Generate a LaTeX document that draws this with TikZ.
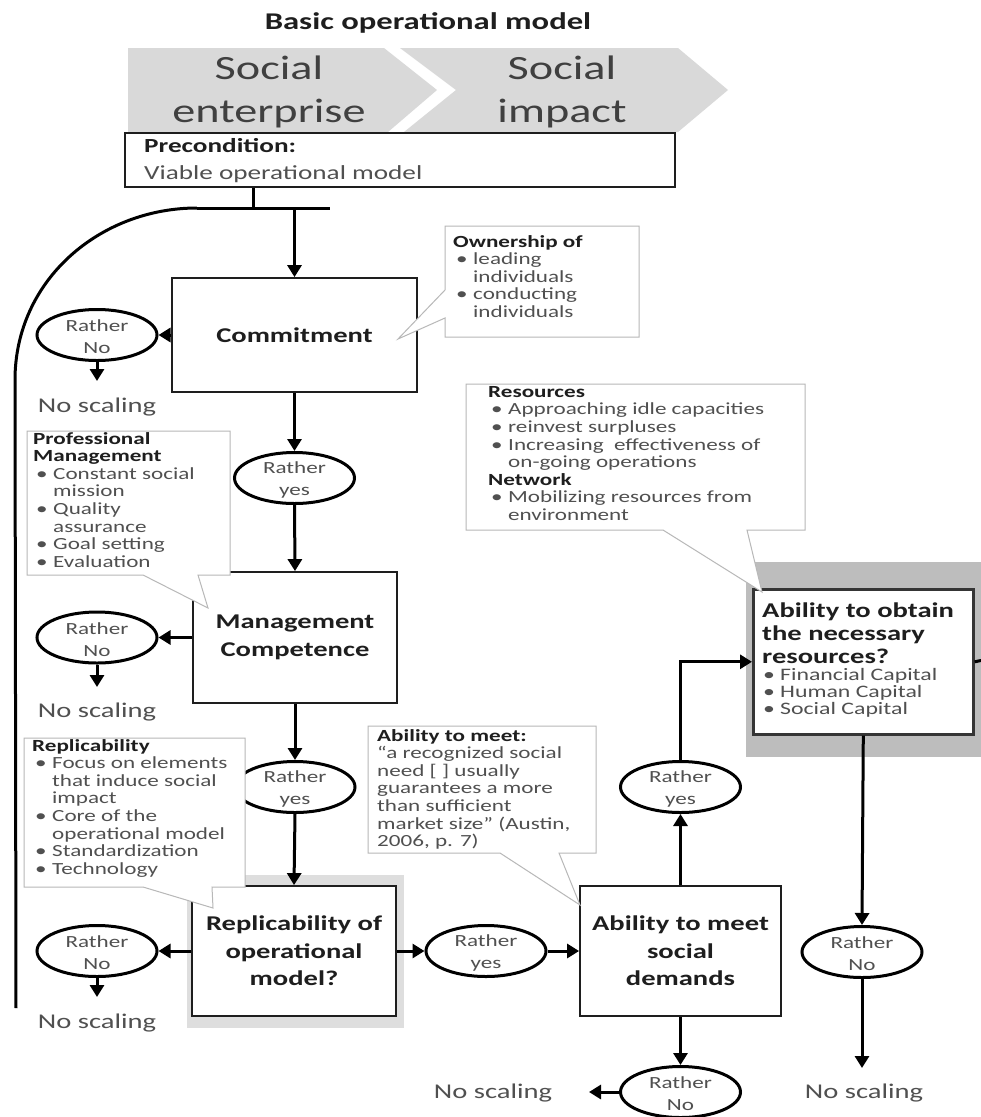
\documentclass[tikz,border=0pt]{standalone}
\usepackage{fontspec}
\setmainfont{Carlito}[FakeStretch=1.36]
\usetikzlibrary{shapes.geometric,arrows.meta}

\definecolor{bannergray}{HTML}{D9D9D9}
\definecolor{callline}{HTML}{B8B8B8}
\definecolor{softtext}{HTML}{505050}
\definecolor{darktext}{HTML}{1E1E1E}
\definecolor{shadelight}{HTML}{DEDEDE}
\definecolor{shadedark}{HTML}{BDBDBD}

\newcommand\boxfont{\fontsize{21}{27.5}\selectfont\bfseries}
\newcommand\callfont{\fontsize{17}{17.6}\selectfont}
\newcommand\bul[1]{\makebox[20pt][l]{\hspace{3pt}\textbullet}#1}
\newcommand\cnt[1]{\hspace*{20pt}#1}
\newcommand\hd[1]{\textcolor{darktext}{\bfseries #1}}

\begin{document}
\begin{tikzpicture}[x=1pt,y=-1pt,
  flow/.style={line width=3pt,-{Triangle[length=12pt,width=14pt]}},
  plain/.style={line width=3pt},
  stepbox/.style={draw=darktext,line width=1.8pt,fill=white,inner sep=0pt,
    align=center,font=\boxfont,text=darktext},
  choicetext/.style={align=center,font=\fontsize{17}{22}\selectfont,
    text=softtext,yshift=-2pt},
  choice/.style={ellipse,draw=black,line width=3pt,fill=white,
    minimum width=120pt,minimum height=51pt,inner sep=0pt,
    label={[choicetext]center:#1}},
  endtext/.style={font=\fontsize{21}{25}\selectfont,text=softtext},
  callout/.style={draw=callline,line width=1pt,fill=white},
  calltext/.style={anchor=north west,inner sep=0pt,align=left,
    font=\callfont,text=softtext}]

\useasboundingbox (0,0) rectangle (981,1117);
\fill[white] (0,0) rectangle (981,1117);

% heading and the two chevrons
\node[font=\fontsize{24}{28}\selectfont\bfseries,text=darktext] (title)
  at (428,23) {Basic operational model};
\fill[bannergray] (128,48) -- (384,48) -- (437,90) -- (388,132) -- (128,132) -- cycle;
\fill[bannergray] (400,48) -- (678,48) -- (728,90) -- (678,132) -- (404,132)
  -- (456,90) -- cycle;
\node[align=center,font=\fontsize{34}{43}\selectfont,text=darktext!85] (enterprise)
  at (269,92) {Social\\enterprise};
\node[align=center,font=\fontsize{34}{43}\selectfont,text=darktext!85] (impact)
  at (562,92) {Social\\impact};

% precondition
\node[draw=darktext,line width=1.8pt,fill=white,minimum width=550pt,
  minimum height=54pt,inner sep=0pt] (pre) at (400,160) {};
\node[anchor=west,align=left,inner sep=0pt,font=\fontsize{20}{27}\selectfont,
  text=softtext] (pretext) at (144,161)
  {\textcolor{darktext}{\bfseries Precondition:}\\Viable operational model};

% grey backdrops of the two key questions
\fill[shadelight] (187,875) rectangle (404,1028);
\fill[shadedark] (746,562) rectangle (981,757);

% process steps
\node[stepbox,minimum width=245pt,minimum height=114pt] (commit)
  at (294.5,335) {Commitment};
\node[stepbox,minimum width=204pt,minimum height=131pt] (mgmt)
  at (295,637.5) {Management\\Competence};
\node[stepbox,minimum width=204pt,minimum height=130pt] (repl)
  at (294,951) {Replicability of\\operational\\model?};
\node[stepbox,minimum width=201pt,minimum height=130pt] (meet)
  at (680.5,951) {Ability to meet\\social\\demands};
\node[stepbox,line width=2.6pt,draw=darktext!90,minimum width=220pt,
  minimum height=145pt,anchor=north west] (res) at (752,588) {};
\node[anchor=north west,inner sep=0pt,align=left,
  font=\fontsize{21}{23}\selectfont\bfseries,text=darktext]
  (restitle) at (762,603) {Ability to obtain\\the necessary\\resources?};
\node[anchor=north west,inner sep=0pt,align=left,
  font=\fontsize{17.5}{17}\selectfont,text=softtext] (reslist) at (760,668)
  {\bul{Financial Capital}\\\bul{Human Capital}\\\bul{Social Capital}};

% decisions
\node[choice={Rather\\No}] (no1) at (97,335) {};
\node[choice={Rather\\yes}] (yes1) at (294.5,478) {};
\node[choice={Rather\\No}] (no2) at (97,637.5) {};
\node[choice={Rather\\yes}] (yes2) at (295,787) {};
\node[choice={Rather\\No}] (no3) at (97,951) {};
\node[choice={Rather\\yes}] (yes3) at (486,951) {};
\node[choice={Rather\\yes}] (yes4) at (680.5,787) {};
\node[choice={Rather\\No}] (no4) at (680.5,1092) {};
\node[choice={Rather\\No}] (no5) at (862,952) {};

% outcomes
\node[endtext] (ns1) at (97,407) {No scaling};
\node[endtext] (ns2) at (97,712) {No scaling};
\node[endtext] (ns3) at (97,1023) {No scaling};
\node[endtext] (ns4) at (493,1093) {No scaling};
\node[endtext] (ns5) at (864,1093) {No scaling};

\coordinate (e1) at (97,381);
\coordinate (e2) at (97,687);
\coordinate (e3) at (97,997);
\coordinate (e4) at (589,1092);
\coordinate (e5) at (862,1068);

% split below the precondition, with the loop back along the left side
\coordinate (tap) at (253,208);
\coordinate (lbar) at (197,208);
\coordinate (rbar) at (330,208);
\coordinate (drop) at (294.5,208);
\coordinate (loopend) at (16,1008);
\coordinate (exit) at (981,660.5);
\draw[plain] (tap |- pre.south) -- (tap);
\draw[plain] (lbar) -- (rbar);
\draw[plain] (lbar) .. controls (100,208) and (15,280) .. (15,380) -- (loopend);

% connectors
\draw[flow] (drop) -- (commit.north);
\draw[flow] (commit.west) -- (no1.east);
\draw[flow] (no1.south) -- (e1);
\draw[flow] (commit.south) -- (yes1.north);
\draw[flow] (yes1.south) -- (mgmt.north);
\draw[flow] (mgmt.west) -- (no2.east);
\draw[flow] (no2.south) -- (e2);
\draw[flow] (mgmt.south) -- (yes2.north);
\draw[flow] (yes2.south) -- (repl.north);
\draw[flow] (repl.west) -- (no3.east);
\draw[flow] (no3.south) -- (e3);
\draw[flow] (repl.east) -- (yes3.west);
\draw[flow] (yes3.east) -- (meet.west);
\draw[flow] (meet.north) -- (yes4.south);
\draw[flow] (yes4.north) |- (res.west);
\draw[flow] (meet.south) -- (no4.north);
\draw[flow] (no4.west) -- (e4);
\draw[flow] (res.south) -- (no5.north);
\draw[flow] (no5.south) -- (e5);
\draw[plain] (res.east) -- (exit);

% callouts
\draw[callout] (445,226) -- (639,226) -- (639,337) -- (445,337) -- (445,318)
  -- (398,339) -- (445,290) -- cycle;
\node[calltext] (owntext) at (453,235)
  {\hd{Ownership of}\\\bul{leading}\\\cnt{individuals}\\\bul{conducting}\\\cnt{individuals}};

\draw[callout] (27,431) -- (230,431) -- (230,575) -- (198,575) -- (208,608)
  -- (143,575) -- (27,575) -- cycle;
\node[calltext] (proftext) at (33,432)
  {\hd{Professional}\\\hd{Management}\\\bul{Constant social}\\\cnt{mission}\\
   \bul{Quality}\\\cnt{assurance}\\\bul{Goal setting}\\\bul{Evaluation}};

\draw[callout] (24,738) -- (245,738) -- (245,887) -- (212,887) -- (213,908)
  -- (143,887) -- (24,887) -- cycle;
\node[calltext] (repltext) at (32,739)
  {\hd{Replicability}\\\bul{Focus on elements}\\\cnt{that induce social}\\\cnt{impact}\\
   \bul{Core of the}\\\cnt{operational model}\\\bul{Standardization}\\\bul{Technology}};

\draw[callout] (466,384) -- (805,384) -- (805,530) -- (747,530) -- (762,592)
  -- (663,530) -- (466,530) -- cycle;
\node[calltext] (restext) at (488,386)
  {\hd{Resources}\\\bul{Approaching idle capacities}\\\bul{reinvest surpluses}\\
   \bul{Increasing\ \ effectiveness of}\\\cnt{on-going operations}\\\hd{Network}\\
   \bul{Mobilizing resources from}\\\cnt{environment}};

\draw[callout] (368,726) -- (596,726) -- (596,853) -- (559,853) -- (580,905)
  -- (500,853) -- (368,853) -- cycle;
\node[calltext] (meettext) at (377,729)
  {\hd{Ability to meet:}\\``a recognized social\\need [ ] usually\\guarantees a more\\
   than sufficient\\market size'' (Austin,\\2006, p. 7)};

\end{tikzpicture}
\end{document}
